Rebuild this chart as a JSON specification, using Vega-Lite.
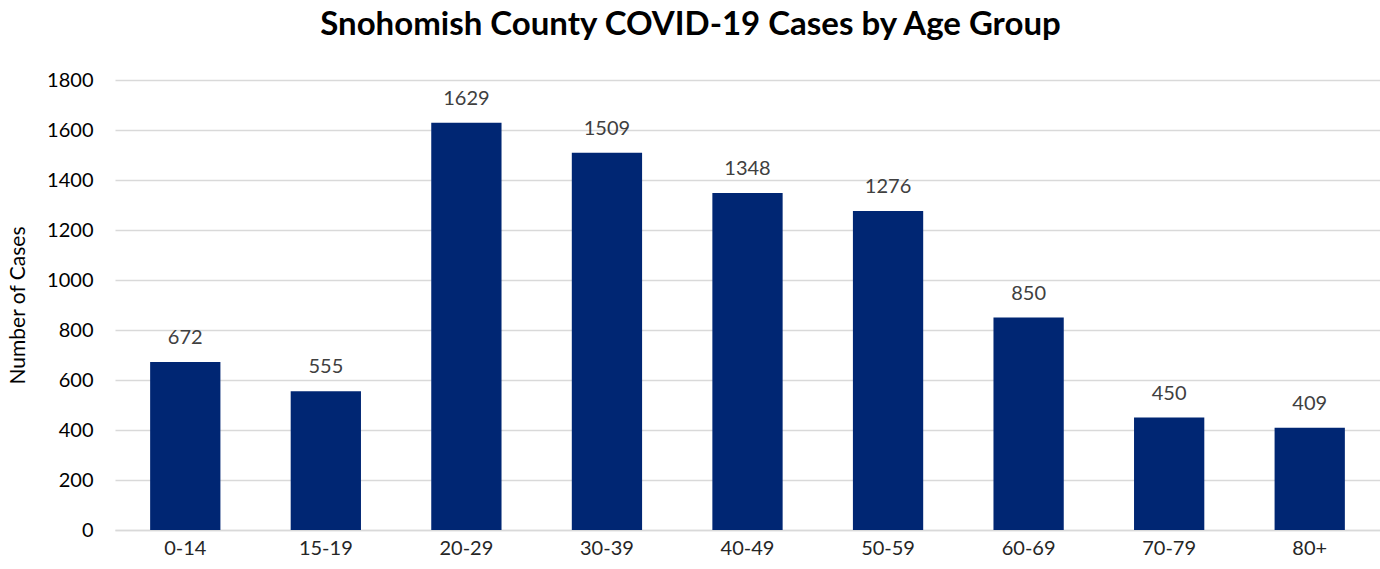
{
  "$schema": "https://vega.github.io/schema/vega-lite/v6.json",
  "autosize": {"type": "none"},
  "width": 1265,
  "height": 450,
  "padding": {"left": 115, "top": 80, "right": 0, "bottom": 39},
  "background": "white",
  "title": {
    "text": "Snohomish County COVID-19 Cases by Age Group",
    "font": "Lato",
    "fontSize": 33,
    "fontWeight": "bold",
    "color": "#000000",
    "anchor": "middle",
    "frame": "group",
    "dx": -57,
    "offset": 28
  },
  "data": {
    "values": [
      {"age": "0-14", "cases": 672},
      {"age": "15-19", "cases": 555},
      {"age": "20-29", "cases": 1629},
      {"age": "30-39", "cases": 1509},
      {"age": "40-49", "cases": 1348},
      {"age": "50-59", "cases": 1276},
      {"age": "60-69", "cases": 850},
      {"age": "70-79", "cases": 450},
      {"age": "80+", "cases": 409}
    ]
  },
  "config": {"view": {"stroke": null}},
  "encoding": {
    "x": {
      "field": "age",
      "type": "nominal",
      "sort": null,
      "scale": {"paddingInner": 0.5, "paddingOuter": 0.25},
      "axis": {
        "title": null,
        "labelAngle": 0,
        "labelFont": "Lato",
        "labelFontSize": 20,
        "labelColor": "#262626",
        "labelPadding": 8,
        "ticks": false,
        "domainColor": "#d9d9d9",
        "domainWidth": 1.5,
        "grid": false
      }
    },
    "y": {
      "field": "cases",
      "type": "quantitative",
      "scale": {"domain": [0, 1800], "nice": false},
      "axis": {
        "title": "Number of Cases",
        "titleFont": "Lato",
        "titleFontSize": 21,
        "titleFontWeight": "normal",
        "titleColor": "#000000",
        "titlePadding": 18,
        "format": "d",
        "values": [0, 200, 400, 600, 800, 1000, 1200, 1400, 1600, 1800],
        "labelFont": "Lato",
        "labelFontSize": 20,
        "labelColor": "#000000",
        "labelPadding": 22,
        "ticks": false,
        "domain": false,
        "gridColor": "#d9d9d9",
        "gridWidth": 1.5
      }
    }
  },
  "layer": [
    {"mark": {"type": "bar", "color": "#002673"}},
    {
      "mark": {"type": "text", "baseline": "middle", "dy": -24, "font": "Lato", "fontSize": 20, "color": "#404040"},
      "encoding": {"text": {"field": "cases", "type": "quantitative", "format": "d"}}
    }
  ]
}
